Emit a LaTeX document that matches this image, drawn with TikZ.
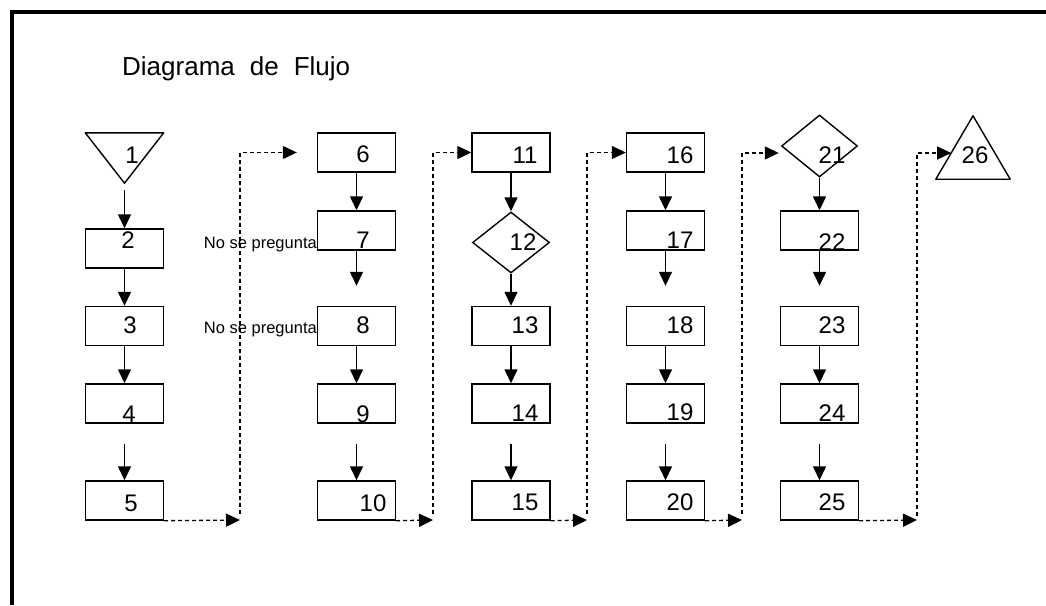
\documentclass[tikz,border=0pt]{standalone}
\usepackage{fontspec}
\setmainfont{Liberation Sans}
\usetikzlibrary{arrows.meta,shapes.geometric,calc}
\begin{document}
\begin{tikzpicture}[x=1pt,y=-1pt,
  box/.style={draw,line width=1.4pt,minimum width=78pt,minimum height=39pt,inner sep=0pt},
  dia/.style={draw,diamond,line width=1.4pt,inner sep=0pt},
  num/.style={font=\fontsize{24}{24}\selectfont,inner sep=0pt},
  flow/.style={line width=1.4pt,-{Triangle[width=13pt,length=14pt]}},
  dflow/.style={line width=1.3pt,dash pattern=on 4pt off 3pt,-{Triangle[width=13pt,length=14pt]}},
  note/.style={font=\fontsize{16.5}{16.5}\selectfont,inner sep=0pt,anchor=base east}
]
\useasboundingbox (0,0) rectangle (1046,605);
% frame
\draw[line width=3.8pt] (12,605) -- (12,12) -- (1046,12);
% title
\node[font=\fontsize{26}{26}\selectfont,inner sep=0pt,anchor=base west] (title) at (122,75) {Diagrama\hspace{15pt}de\hspace{15pt}Flujo};

% column 1
\node[minimum width=78pt,minimum height=50pt,inner sep=0pt] (t1) at (124.5,158) {};
\draw[line width=1.4pt,line join=round] (t1.north west) -- (t1.north east) -- (t1.south) -- cycle;
\node[num] (l1) at (132,155) {1};
\node[box] (b2) at (124.5,248.5) {};
\node[num] (l2) at (128,240) {2};
\node[box] (b3) at (124.5,326) {};
\node[num] (l3) at (130,325) {3};
\node[box] (b4) at (124.5,403.5) {};
\node[num] (l4) at (129,414) {4};
\node[box] (b5) at (124.5,500.5) {};
\node[num] (l5) at (131,503) {5};

% column 2
\node[box] (b6) at (356.5,152.5) {};
\node[num] (l6) at (363,154) {6};
\node[box] (b7) at (356.5,230.5) {};
\node[num] (l7) at (363,240) {7};
\node[box] (b8) at (356.5,326) {};
\node[num] (l8) at (363,325) {8};
\node[box] (b9) at (356.5,403.5) {};
\node[num] (l9) at (363,414) {9};
\node[box] (b10) at (356.5,500.5) {};
\node[num] (l10) at (373,503) {10};
\node[note] (n7) at (317,248) {No se pregunta};
\node[note] (n8) at (317,333) {No se pregunta};

% column 3
\node[box] (b11) at (511,152.5) {};
\node[num] (l11) at (525,155) {11};
\node[dia,minimum width=77pt,minimum height=61pt] (d12) at (511,242.5) {};
\node[num] (l12) at (523,242) {12};
\node[box] (b13) at (511,326) {};
\node[num] (l13) at (525,325) {13};
\node[box] (b14) at (511,403.5) {};
\node[num] (l14) at (525,413) {14};
\node[box] (b15) at (511,500.5) {};
\node[num] (l15) at (525,502) {15};

% column 4
\node[box] (b16) at (665.5,152.5) {};
\node[num] (l16) at (680,155) {16};
\node[box] (b17) at (665.5,230.5) {};
\node[num] (l17) at (680,240) {17};
\node[box] (b18) at (665.5,326) {};
\node[num] (l18) at (680,325) {18};
\node[box] (b19) at (665.5,403.5) {};
\node[num] (l19) at (680,412) {19};
\node[box] (b20) at (665.5,500.5) {};
\node[num] (l20) at (680,502) {20};

% column 5
\node[dia,minimum width=76pt,minimum height=62pt] (d21) at (819.5,146) {};
\node[num] (l21) at (832,155) {21};
\node[box] (b22) at (819.5,230.5) {};
\node[num] (l22) at (832,242) {22};
\node[box] (b23) at (819.5,326) {};
\node[num] (l23) at (832,325) {23};
\node[box] (b24) at (819.5,403.5) {};
\node[num] (l24) at (832,413) {24};
\node[box] (b25) at (819.5,500.5) {};
\node[num] (l25) at (832,502) {25};

% end triangle
\node[minimum width=74pt,minimum height=63pt,inner sep=0pt] (t26) at (973,147.5) {};
\draw[line width=1.4pt,line join=round] (t26.south west) -- (t26.north) -- (t26.south east) -- cycle;
\node[num] (l26) at (975,155) {26};

% solid arrows
\draw[flow,shorten <=7pt] (t1.south) -- (b2.north);
\draw[flow] (b2) -- (b3);
\draw[flow] (b3) -- (b4);
\draw[flow,shorten <=20pt] (b4) -- (b5);
\draw[flow] (b6) -- (b7);
\draw[flow,shorten >=20pt] (b7) -- (b8);
\draw[flow] (b8) -- (b9);
\draw[flow,shorten <=20pt] (b9) -- (b10);
\draw[flow] (b11) -- (d12);
\draw[flow] (d12) -- (b13);
\draw[flow] (b13) -- (b14);
\draw[flow,shorten <=20pt] (b14) -- (b15);
\draw[flow] (b16) -- (b17);
\draw[flow,shorten >=20pt] (b17) -- (b18);
\draw[flow] (b18) -- (b19);
\draw[flow,shorten <=20pt] (b19) -- (b20);
\draw[flow] (d21) -- (b22);
\draw[flow,shorten >=20pt] (b22) -- (b23);
\draw[flow] (b23) -- (b24);
\draw[flow,shorten <=20pt] (b24) -- (b25);

% dashed connectors
\coordinate (c1) at (240,520);
\coordinate (c2) at (433,520);
\coordinate (c3) at (587,520);
\coordinate (c4) at (742,520);
\coordinate (c5) at (917,520);
\draw[dflow] (b5.south east) -- (c1);
\draw[dflow,shorten <=6pt,shorten >=20pt] (c1) |- (b6.west);
\draw[dflow] (b10.south east) -- (c2);
\draw[dflow,shorten <=6pt] (c2) |- (b11.west);
\draw[dflow] (b15.south east) -- (c3);
\draw[dflow,shorten <=6pt] (c3) |- (b16.west);
\draw[dflow] (b20.south east) -- (c4);
\draw[dflow,shorten <=6pt] (c4) |- ($(d21.west)+(-2,7)$);
\draw[dflow] (b25.south east) -- (c5);
\draw[dflow,shorten <=4pt] (c5) |- ($(t26.north)!0.587!(t26.south west)$);
\end{tikzpicture}
\end{document}
